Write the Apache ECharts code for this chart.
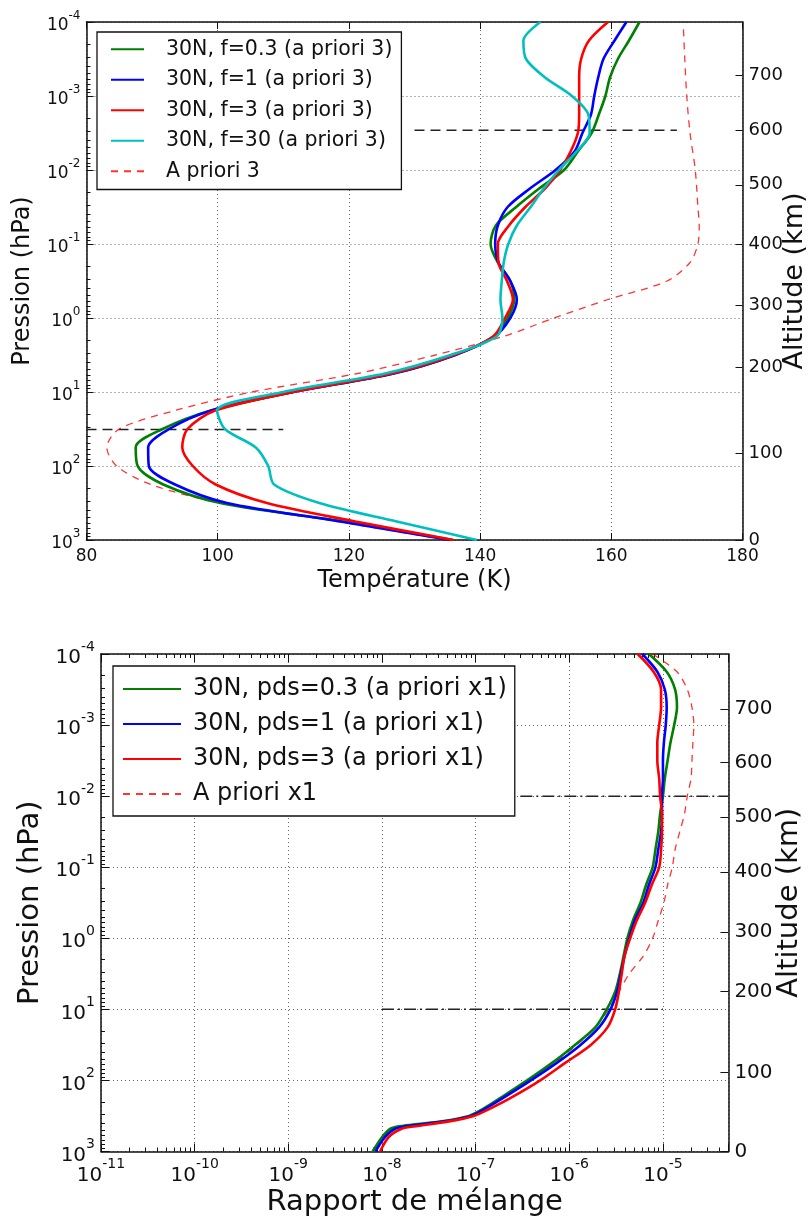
<!DOCTYPE html>
<html>
<head>
<meta charset="utf-8" />
<title>Profils 30N</title>
<script src="https://cdn.jsdelivr.net/npm/echarts@6/dist/echarts.min.js"></script>
<style>html,body{margin:0;background:#fff}</style>
</head>
<body>
<div id="main" style="width:808px;height:1220px;"></div>
<script>
// ---- panneau du haut : temperature ----
var topLogP = [-4, -3.75, -3.5, -3.25, -3, -2.75, -2.5, -2.25, -2, -1.75, -1.5, -1.25, -1, -0.75, -0.5, -0.25,
  0, 0.25, 0.5, 0.75, 1, 1.25, 1.5, 1.75, 2, 2.25, 2.5, 2.75, 3];
var tempF03 = [164.3, 162.7, 161.0, 159.8, 159.1, 158.1, 157.0, 154.9, 152.8, 149.0, 145.5, 142.4, 141.6, 142.7, 144.6, 145.2,
  144.2, 142.0, 136.2, 126.8, 111.5, 99.0, 91.6, 87.5, 87.8, 91.7, 100.4, 119.2, 135.9];
var tempF1 = [162.3, 160.5, 158.8, 158.0, 157.4, 156.9, 155.6, 154.4, 151.5, 147.6, 144.2, 142.7, 142.3, 142.8, 144.6, 145.6,
  144.6, 142.2, 136.2, 126.8, 111.5, 99.0, 92.6, 89.4, 89.5, 93.5, 101.4, 118.7, 135.4];
var tempF3 = [159.5, 156.6, 155.4, 155.1, 155.1, 155.1, 154.9, 153.8, 152.2, 149.9, 146.9, 144.4, 142.7, 142.8, 144.1, 145.0,
  143.8, 142.0, 136.0, 126.5, 111.5, 99.6, 95.4, 94.6, 96.2, 99.7, 107.5, 121.0, 135.9];
var tempF30 = [149.2, 146.6, 147.0, 149.9, 154.0, 156.5, 156.7, 154.7, 152.0, 149.7, 147.7, 145.6, 144.3, 143.6, 143.3, 143.1,
  143.4, 142.5, 135.5, 125.5, 110.0, 99.9, 101.1, 105.8, 107.7, 108.6, 115.5, 127.3, 139.5];
var aprioriTopLogP = [-3.9, -3.5, -3, -2.5, -2, -1.5, -1.25, -1, -0.75, -0.5, -0.25, 0, 0.25, 0.5, 0.75, 1,
  1.25, 1.5, 1.75, 2, 2.25, 2.5, 2.75, 3];
var tempApriori3 = [171.0, 171.2, 171.5, 172.0, 172.8, 173.2, 173.4, 173.2, 172.0, 168.5, 159.5, 151.3, 143.5, 133.2, 121.3, 105.2,
  93.5, 85.0, 83.1, 84.6, 89.8, 100.4, 118.2, 134.9];

// ---- panneau du bas : rapport de melange (log10) ----
var botLogP = [-4, -3.75, -3.5, -3.25, -3, -2.75, -2.5, -2.25, -2, -1.75, -1.5, -1.25, -1, -0.75, -0.5, -0.25,
  0, 0.25, 0.5, 0.75, 1, 1.25, 1.5, 1.75, 2, 2.25, 2.4, 2.5, 2.58, 2.64, 2.68, 2.8, 3];
var mixPds03 = [-5.15, -4.96, -4.87, -4.85, -4.88, -4.92, -4.95, -4.98, -5.0, -5.03, -5.05, -5.08, -5.11, -5.18, -5.24, -5.32,
  -5.38, -5.42, -5.46, -5.51, -5.6, -5.72, -5.94, -6.18, -6.45, -6.74, -6.92, -7.07, -7.38, -7.78, -7.91, -8.0, -8.1];
var mixPds1 = [-5.22, -5.06, -4.98, -4.96, -4.97, -4.99, -5.0, -5.0, -5.01, -5.01, -5.02, -5.05, -5.08, -5.15, -5.21, -5.3,
  -5.36, -5.41, -5.45, -5.49, -5.56, -5.68, -5.88, -6.13, -6.41, -6.71, -6.9, -7.05, -7.35, -7.72, -7.86, -7.97, -8.07];
var mixPds3 = [-5.27, -5.10, -5.02, -5.02, -5.04, -5.06, -5.06, -5.04, -5.03, -5.01, -5.01, -5.02, -5.04, -5.12, -5.19, -5.28,
  -5.35, -5.41, -5.44, -5.47, -5.51, -5.59, -5.77, -6.04, -6.31, -6.63, -6.85, -7.02, -7.3, -7.62, -7.79, -7.93, -8.02];
var mixApriori1 = [-5.11, -4.85, -4.74, -4.69, -4.67, -4.68, -4.69, -4.70, -4.74, -4.77, -4.82, -4.87, -4.90, -4.95, -4.99, -5.05,
  -5.11, -5.21, -5.36, -5.47, -5.58, -5.72, -5.92, -6.16, -6.44, -6.73, -6.91, -7.07, -7.37, -7.76, -7.9, -7.99, -8.09];

// axe altitude (km) a droite, position en log10(p)
var altKm = [0, 100, 200, 300, 400, 500, 600, 700];
var altTopLogP = [3, 1.83, 0.67, -0.17, -1.0, -1.8, -2.54, -3.28];
var altBotLogP = [3, 1.89, 0.75, -0.085, -0.93, -1.71, -2.475, -3.225];

// lignes de reference
var refTop = [{ p: 2.9e-3, x: [130, 170] }, { p: 32, x: [80, 110] }];
var refBot = [{ p: 1e-2, x: [3e-7, 5e-5] }, { p: 10, x: [1e-8, 1e-5] }];

var FONT = 'DejaVu Sans';
var myChart = echarts.init(document.getElementById('main'));

function pts(vals, logp, isLogX) {
  return vals.map(function (v, i) {
    return [isLogX ? Math.pow(10, v) : v, Math.pow(10, logp[i])];
  });
}
function minorVals(e0, e1) {
  var out = [];
  for (var e = e0; e < e1; e++) for (var m = 2; m <= 9; m++) out.push(m * Math.pow(10, e));
  return out;
}
function powLabel(v) {
  var e = Math.log10(v);
  if (Math.abs(e - Math.round(e)) > 0.01) return '';
  e = Math.round(e);
  return '{b|10}{s|' + e + '}';
}
function altLabel(logs) {
  return function (v) {
    var l = Math.log10(v);
    for (var i = 0; i < logs.length; i++) if (Math.abs(logs[i] - l) < 0.01) return altKm[i];
    return '';
  };
}
function richPow(size) {
  return {
    b: { fontSize: size, fontFamily: FONT, color: '#111', lineHeight: size + 8, verticalAlign: 'bottom' },
    s: { fontSize: Math.round(size * 0.7), fontFamily: FONT, color: '#111', lineHeight: size * 0.7, verticalAlign: 'top' }
  };
}
function legendText(size, gap) {
  return {
    fontFamily: FONT, fontSize: size, color: '#111', lineHeight: size + 4,
    rich: { t: { fontFamily: FONT, fontSize: size, color: '#111', lineHeight: size + 4, padding: [0, 0, 0, gap] } }
  };
}
var dotted = { show: true, lineStyle: { color: '#666', width: 1, type: [1, 3] } };
var frame = { show: true, onZero: false, lineStyle: { color: '#111', width: 1.5 } };

function line(name, data, color, xi, yi, dashed) {
  return {
    name: name, type: 'line', xAxisIndex: xi, yAxisIndex: yi, data: data,
    symbol: 'none', smooth: 0.3, z: dashed ? 3 : 4,
    itemStyle: { color: color },
    lineStyle: dashed ? { color: color, width: 1.3, type: [7, 6], opacity: 0.8 } : { color: color, width: 2.6 }
  };
}
function refLine(r, xi, yi, type) {
  return {
    type: 'line', xAxisIndex: xi, yAxisIndex: yi, symbol: 'none', silent: true, z: 2,
    data: [[r.x[0], r.p], [r.x[1], r.p]],
    lineStyle: { color: '#222', width: 1.5, type: type }
  };
}

var names1 = ['30N, f=0.3 (a priori 3)', '30N, f=1 (a priori 3)', '30N, f=3 (a priori 3)', '30N, f=30 (a priori 3)', 'A priori 3'];
var names2 = ['30N, pds=0.3 (a priori x1)', '30N, pds=1 (a priori x1)', '30N, pds=3 (a priori x1)', 'A priori x1'];

var option = {
  backgroundColor: '#fff',
  animation: false,
  grid: [
    { left: 86.5, top: 22, width: 656, height: 518, outerBoundsMode: 'none' },
    { left: 101, top: 654, width: 627.4, height: 497.5, outerBoundsMode: 'none' }
  ],
  legend: [
    {
      data: names1, orient: 'vertical', left: 97, top: 32,
      padding: [5, 9, 6, 13], itemWidth: 33, itemHeight: 14, itemGap: 6,
      backgroundColor: '#fff', borderColor: '#111', borderWidth: 1.3,
      itemStyle: { opacity: 0 },
      formatter: function (n) { return '{t|' + n + '}'; },
      textStyle: legendText(20.5, 17)
    },
    {
      data: names2, orient: 'vertical', left: 113, top: 666,
      padding: [9, 8, 8, 9], itemWidth: 58, itemHeight: 14, itemGap: 7,
      backgroundColor: '#fff', borderColor: '#111', borderWidth: 1.3,
      itemStyle: { opacity: 0 },
      formatter: function (n) { return '{t|' + n + '}'; },
      textStyle: legendText(24, 7)
    }
  ],
  xAxis: [
    {
      gridIndex: 0, type: 'value', min: 80, max: 180, interval: 20, position: 'bottom',
      name: 'Température (K)', nameLocation: 'middle', nameGap: 29,
      nameTextStyle: { fontFamily: FONT, fontSize: 24, color: '#111' },
      axisLine: frame, axisTick: { inside: true, length: 7, lineStyle: { color: '#111' } },
      axisLabel: { fontFamily: FONT, fontSize: 17, color: '#111', margin: 8 },
      splitLine: dotted
    },
    {
      gridIndex: 0, type: 'value', min: 80, max: 180, interval: 20, position: 'top',
      axisLine: frame, axisTick: { inside: true, length: 7, lineStyle: { color: '#111' } },
      axisLabel: { show: false }, splitLine: { show: false }
    },
    {
      gridIndex: 1, type: 'log', logBase: 10, min: 1e-11, max: 5e-5, position: 'bottom',
      name: 'Rapport de mélange', nameLocation: 'middle', nameGap: 36,
      nameTextStyle: { fontFamily: FONT, fontSize: 29, color: '#111' },
      axisLine: frame, axisTick: { inside: true, length: 8, lineStyle: { color: '#111' } },
      axisLabel: { formatter: powLabel, rich: richPow(20), margin: 6 },
      splitLine: dotted
    },
    {
      gridIndex: 1, type: 'log', logBase: 10, min: 1e-11, max: 5e-5, position: 'bottom',
      axisLine: { show: false }, axisLabel: { show: false }, splitLine: { show: false },
      axisTick: { inside: true, length: 4, customValues: minorVals(-11, -4), lineStyle: { color: '#111' } }
    },
    {
      gridIndex: 1, type: 'log', logBase: 10, min: 1e-11, max: 5e-5, position: 'top',
      axisLine: frame, axisLabel: { show: false }, splitLine: { show: false },
      axisTick: { inside: true, length: 8, lineStyle: { color: '#111' } }
    },
    {
      gridIndex: 1, type: 'log', logBase: 10, min: 1e-11, max: 5e-5, position: 'top',
      axisLine: { show: false }, axisLabel: { show: false }, splitLine: { show: false },
      axisTick: { inside: true, length: 4, customValues: minorVals(-11, -4), lineStyle: { color: '#111' } }
    }
  ],
  yAxis: [
    {
      gridIndex: 0, type: 'log', logBase: 10, min: 1e-4, max: 1e3, inverse: true, position: 'left',
      name: 'Pression (hPa)', nameLocation: 'middle', nameGap: 52, nameRotate: 90,
      nameTextStyle: { fontFamily: FONT, fontSize: 24, color: '#111' },
      axisLine: frame, axisTick: { inside: true, length: 7, lineStyle: { color: '#111' } },
      axisLabel: { formatter: powLabel, rich: richPow(17), margin: 6 },
      splitLine: dotted
    },
    {
      gridIndex: 0, type: 'log', logBase: 10, min: 1e-4, max: 1e3, inverse: true, position: 'left',
      axisLine: { show: false }, axisLabel: { show: false }, splitLine: { show: false },
      axisTick: { inside: true, length: 4, customValues: minorVals(-4, 3), lineStyle: { color: '#111' } }
    },
    {
      gridIndex: 0, type: 'log', logBase: 10, min: 1e-4, max: 1e3, inverse: true, position: 'right',
      name: 'Altitude (km)', nameLocation: 'middle', nameGap: 39, nameRotate: 90, nameMoveOverlap: false,
      nameTextStyle: { fontFamily: FONT, fontSize: 27, color: '#111' },
      axisLine: frame, splitLine: { show: false },
      axisTick: { inside: true, length: 7, customValues: altTopLogP.map(function (l) { return Math.pow(10, l); }), lineStyle: { color: '#111' } },
      axisLabel: { fontFamily: FONT, fontSize: 18, color: '#111', margin: 6,
        customValues: altTopLogP.map(function (l) { return Math.pow(10, l); }), formatter: altLabel(altTopLogP) }
    },
    {
      gridIndex: 1, type: 'log', logBase: 10, min: 1e-4, max: 1e3, inverse: true, position: 'left',
      name: 'Pression (hPa)', nameLocation: 'middle', nameGap: 54, nameRotate: 90,
      nameTextStyle: { fontFamily: FONT, fontSize: 29, color: '#111' },
      axisLine: frame, axisTick: { inside: true, length: 8, lineStyle: { color: '#111' } },
      axisLabel: { formatter: powLabel, rich: richPow(20), margin: 6 },
      splitLine: dotted
    },
    {
      gridIndex: 1, type: 'log', logBase: 10, min: 1e-4, max: 1e3, inverse: true, position: 'left',
      axisLine: { show: false }, axisLabel: { show: false }, splitLine: { show: false },
      axisTick: { inside: true, length: 4, customValues: minorVals(-4, 3), lineStyle: { color: '#111' } }
    },
    {
      gridIndex: 1, type: 'log', logBase: 10, min: 1e-4, max: 1e3, inverse: true, position: 'right',
      name: 'Altitude (km)', nameLocation: 'middle', nameGap: 47, nameRotate: 90, nameMoveOverlap: false,
      nameTextStyle: { fontFamily: FONT, fontSize: 29, color: '#111' },
      axisLine: frame, splitLine: { show: false },
      axisTick: { inside: true, length: 8, customValues: altBotLogP.map(function (l) { return Math.pow(10, l); }), lineStyle: { color: '#111' } },
      axisLabel: { fontFamily: FONT, fontSize: 20, color: '#111', margin: 6,
        customValues: altBotLogP.map(function (l) { return Math.pow(10, l); }), formatter: altLabel(altBotLogP) }
    }
  ],
  series: [
    line(names1[0], pts(tempF03, topLogP), '#008000', 0, 0),
    line(names1[1], pts(tempF1, topLogP), '#0000ff', 0, 0),
    line(names1[2], pts(tempF3, topLogP), '#ff0000', 0, 0),
    line(names1[3], pts(tempF30, topLogP), '#00bfbf', 0, 0),
    line(names1[4], pts(tempApriori3, aprioriTopLogP), '#ff0000', 0, 0, true),
    refLine(refTop[0], 0, 0, [10, 6]),
    refLine(refTop[1], 0, 0, [10, 6]),
    line(names2[0], pts(mixPds03, botLogP, true), '#008000', 2, 3),
    line(names2[1], pts(mixPds1, botLogP, true), '#0000ff', 2, 3),
    line(names2[2], pts(mixPds3, botLogP, true), '#ff0000', 2, 3),
    line(names2[3], pts(mixApriori1, botLogP, true), '#ff0000', 2, 3, true),
    refLine(refBot[0], 2, 3, [12, 4, 2, 4]),
    refLine(refBot[1], 2, 3, [12, 4, 2, 4])
  ]
};

myChart.setOption(option);
</script>
</body>
</html>
